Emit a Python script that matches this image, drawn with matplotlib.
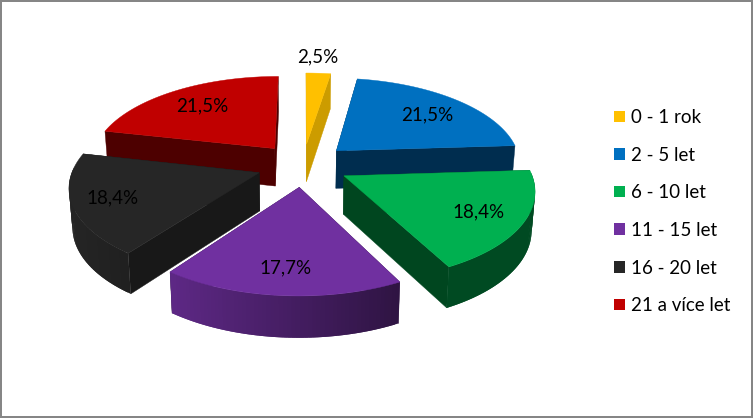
import numpy as np
import matplotlib
matplotlib.use("Agg")
import matplotlib.pyplot as plt
from matplotlib.patches import Patch, Polygon, Rectangle
from matplotlib.colors import to_rgb

# --- Data ---
categories = ["0 - 1 rok", "2 - 5 let", "6 - 10 let", "11 - 15 let", "16 - 20 let", "21 a více let"]
values = [2.5, 21.5, 18.4, 17.7, 18.4, 21.5]
labels = ["2,5%", "21,5%", "18,4%", "17,7%", "18,4%", "21,5%"]

# --- Styles ---
top_colors = ["#FFC000", "#0070C0", "#00B050", "#7030A0", "#262626", "#C00000"]
side_colors = ["#CC9C00", "#002D4F", "#00461F", "#2D1340", "#181818", "#4D0000"]
label_pos = [(318, 57), (427, 115), (479, 212), (286, 268), (113, 198), (202, 106)]
draw_order = [5, 0, 1, 4, 2, 3]

# --- Projection of the pie ---
CX, CY = 303, 165
AX_X, AX_Y = 185, 86.5
PERSP = 0.14
EXPLODE = 0.25
DEPTH = 38


def project(x, y, bottom=False):
    s = 1 / (1 - PERSP * y)
    px = AX_X * x * s
    py = CY + AX_Y * y * s
    if bottom:
        return CX + px * 0.985, py + DEPTH * np.sqrt(s)
    return CX + px, py


def shade(color, f):
    return tuple(c * f for c in to_rgb(color))


fig = plt.figure(figsize=(7.53, 4.18), dpi=100)
ax = fig.add_axes([0, 0, 1, 1])
ax.set_xlim(0, 753)
ax.set_ylim(418, 0)
ax.axis("off")
ax.add_patch(Rectangle((1.2, 1.2), 750.8, 416, fc="white", ec="#868686", lw=1.44, zorder=0))

edges = np.cumsum([0] + values) * 3.6
z = 1
for i in draw_order:
    a0, a1 = np.radians(edges[i]), np.radians(edges[i + 1])
    mid = (a0 + a1) / 2
    ox, oy = EXPLODE * np.sin(mid), -EXPLODE * np.cos(mid)
    th = np.linspace(a0, a1, 60)
    rx, ry = ox + np.sin(th), oy - np.cos(th)

    # radial walls, then the rim in thin shaded strips, then the top face
    for a in (a0, a1):
        ex, ey = ox + np.sin(a), oy - np.cos(a)
        quad = [project(ox, oy), project(ex, ey), project(ex, ey, True), project(ox, oy, True)]
        ax.add_patch(Polygon(quad, fc=side_colors[i], ec=side_colors[i], lw=0.3, zorder=z))
    z += 1
    # strips overlap by one step, otherwise antialiasing leaves thin seams
    for k in range(len(th) - 1):
        if np.cos((th[k] + th[k + 1]) / 2) > 0.05:
            continue
        j = min(k + 2, len(th) - 1)
        f = np.clip(0.6 - 0.4 * np.sin((th[k] + th[k + 1]) / 2), 0.42, 0.95)
        col = shade(top_colors[i], f)
        quad = [project(rx[k], ry[k]), project(rx[j], ry[j]),
                project(rx[j], ry[j], True), project(rx[k], ry[k], True)]
        ax.add_patch(Polygon(quad, fc=col, ec="none", zorder=z))
    z += 1
    top = [project(ox, oy)] + [project(x, y) for x, y in zip(rx, ry)]
    ax.add_patch(Polygon(top, fc=top_colors[i], ec=top_colors[i], lw=0.3, zorder=z))
    z += 1

for (x, y), t in zip(label_pos, labels):
    ax.text(x, y, t, ha="center", va="center", fontsize=13.5, family="Lato", color="black", zorder=50)

handles = [Patch(fc=c, ec=c, lw=0) for c in top_colors]
ax.legend(handles, categories, loc="upper left", bbox_to_anchor=(614 / 753, 1 - 109 / 418),
          frameon=False, prop={"family": "Lato", "size": 13.5}, labelspacing=1.1,
          handlelength=0.585, handleheight=0.585, handletextpad=0.32, borderpad=0, borderaxespad=0)

plt.savefig("out.png", dpi=100)
